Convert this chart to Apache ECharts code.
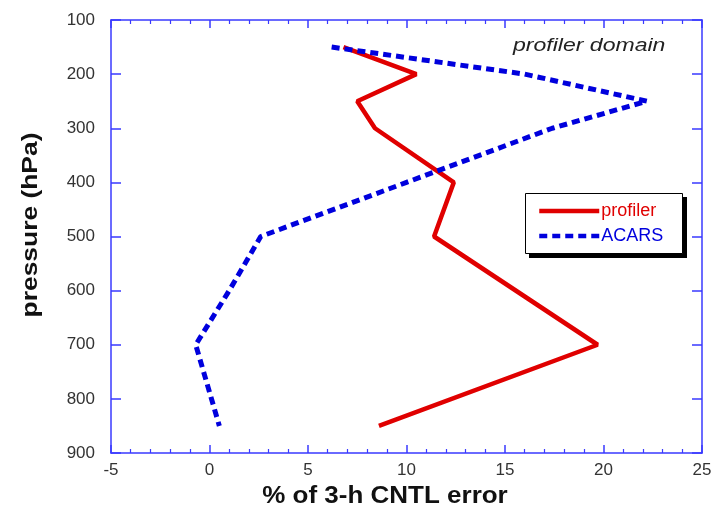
<!DOCTYPE html>
<html>
<head>
<meta charset="utf-8">
<script src="https://cdn.jsdelivr.net/npm/echarts@6/dist/echarts.min.js"></script>
<style>
html, body { margin: 0; padding: 0; background: #fff; }
#main { width: 719px; height: 519px; }
</style>
</head>
<body>
<div id="main"></div>
<script>
// pressure levels (hPa) and % of 3-h CNTL error
var profLevels = [150, 200, 250, 300, 400, 500, 700, 850];
var profiler = [6.8, 10.5, 7.5, 8.4, 12.4, 11.4, 19.7, 8.6];
var acarsLevels = [150, 200, 250, 300, 400, 500, 600, 700, 850];
var acars = [6.2, 16.0, 22.2, 17.4, 10.0, 2.6, 1.0, -0.7, 0.5];

var FONT = 'Liberation Sans, Arial, sans-serif';
var AXIS_BLUE = '#3a3aff';

function pairs(xs, ys) {
	var out = [];
	for (var i = 0; i < xs.length; i++) {
		out.push([xs[i], ys[i]]);
	}
	return out;
}

// one axis setup, used for the four sides
function make_axis(pos, isX, labels) {
	var ax = {
		type: 'value',
		position: pos,
		axisLine: { show: true, onZero: false, lineStyle: { color: AXIS_BLUE, width: 1.5 } },
		axisTick: { show: true, inside: true, length: isX ? 8 : 10, lineStyle: { color: AXIS_BLUE, width: 1.5 } },
		axisLabel: { show: labels, color: '#333', fontSize: 17, fontFamily: FONT, margin: isX ? 9 : 16 },
		splitLine: { show: false }
	};
	if (isX) {
		ax.min = -5; ax.max = 25; ax.interval = 5;
		ax.minorTick = { show: true, splitNumber: 5, length: 4, lineStyle: { color: AXIS_BLUE, width: 1.2 } };
	} else {
		ax.min = 100; ax.max = 900; ax.interval = 100; ax.inverse = true;
	}
	return ax;
}

var dom = document.getElementById('main');
var myChart = echarts.init(dom);
var option = {
	backgroundColor: '#fff',
	animation: false,
	grid: { left: 111, right: 17, top: 20, bottom: 66 },
	xAxis: [make_axis('bottom', true, true), make_axis('top', true, false)],
	yAxis: [make_axis('left', false, true), make_axis('right', false, false)],
	legend: {
		orient: 'vertical',
		left: 525, top: 196,
		padding: [6, 12, 6, 12],
		itemWidth: 60, itemHeight: 14, itemGap: 7,
		itemStyle: { opacity: 0 },
		lineStyle: { width: 4.5 },
		textStyle: { fontSize: 18, fontFamily: FONT, padding: [0, 0, 0, -3] },
		data: [
			{ name: 'profiler', textStyle: { color: '#e00000' } },
			{ name: 'ACARS', textStyle: { color: '#0000dd' } }
		]
	},
	graphic: [
		// legend box with its drop shadow
		{ type: 'rect', z: 1, shape: { x: 529, y: 197, width: 158, height: 61 }, style: { fill: '#000' } },
		{ type: 'rect', z: 2, shape: { x: 525.5, y: 193.5, width: 157, height: 60 }, style: { fill: '#fff', stroke: '#000', lineWidth: 1 } },
		{
			type: 'text', x: 513, y: 37, scaleX: 1.28,
			style: { text: 'profiler domain', font: 'italic 18px ' + FONT, fill: '#222' }
		},
		{
			type: 'text', x: 385, y: 497, scaleX: 1.13,
			style: { text: '% of 3-h CNTL error', font: 'bold 23px ' + FONT, fill: '#111', align: 'center', verticalAlign: 'middle' }
		},
		{
			type: 'text', x: 30.5, y: 225, rotation: Math.PI / 2, scaleX: 1.2,
			style: { text: 'pressure (hPa)', font: 'bold 22px ' + FONT, fill: '#111', align: 'center', verticalAlign: 'middle' }
		}
	],
	series: [
		{
			name: 'profiler', type: 'line',
			data: pairs(profiler, profLevels),
			showSymbol: false, symbol: 'none',
			lineStyle: { color: '#e00000', width: 4.5 },
			itemStyle: { color: '#e00000' }
		},
		{
			name: 'ACARS', type: 'line',
			data: pairs(acars, acarsLevels),
			showSymbol: false, symbol: 'none',
			lineStyle: { color: '#0000dd', width: 5, type: [8, 5] },
			itemStyle: { color: '#0000dd' }
		}
	]
};
if (option && typeof option === "object") {
	myChart.setOption(option, true);
}
</script>
</body>
</html>
